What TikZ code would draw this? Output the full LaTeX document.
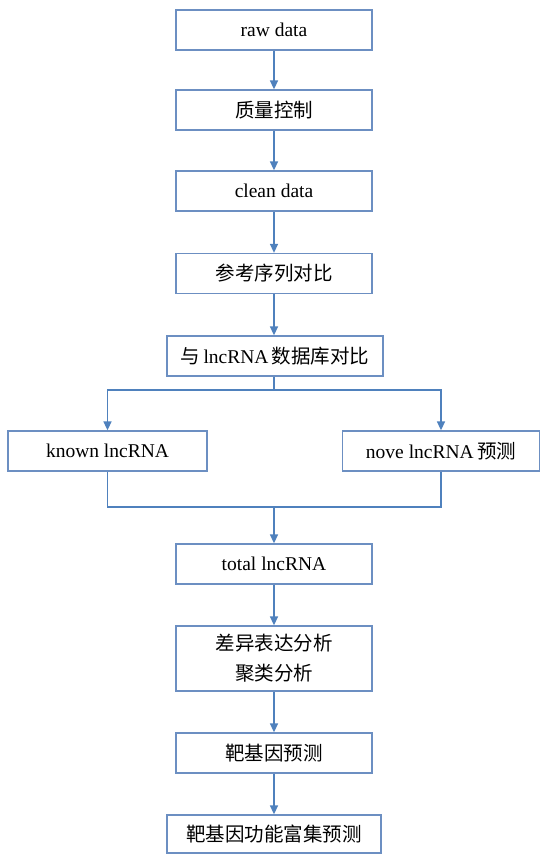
\documentclass[tikz,border=0pt]{standalone}
\usepackage{fontspec}
\setmainfont{Liberation Serif}
\newfontfamily\cjk{Noto Sans CJK SC}
\usetikzlibrary{arrows.meta,positioning}
\definecolor{boxblue}{RGB}{108,143,194}
\definecolor{arrblue}{RGB}{79,129,189}

\begin{document}
\begin{tikzpicture}[x=1pt, y=-1pt, font=\fontsize{19.5}{30}\selectfont,
  stepbox/.style={draw=boxblue, line width=1.3pt, minimum width=196pt,
    minimum height=40pt, inner sep=0pt, align=center},
  link/.style={draw=arrblue, line width=1.5pt},
  flow/.style={link, -{Triangle[width=8pt,length=9pt]}}]
  \useasboundingbox (0,0) rectangle (540,855);
  % ---- main column ----
  \node[stepbox] (raw)   at (274,30)    {raw data};
  \node[stepbox] (qc)    at (274,110)   {\cjk 质量控制};
  \node[stepbox] (clean) at (274,191)   {clean data};
  \node[stepbox] (ref)   at (274,273.5) {\cjk 参考序列对比};
  \node[stepbox, minimum width=216pt] (db) at (275,356)
    {{\cjk 与}\,lncRNA\,{\cjk 数据库对比}};
  % ---- branches ----
  \node[stepbox, minimum width=199pt] (known) at (107.5,451) {known lncRNA};
  \node[stepbox, minimum width=197pt] (nove)  at (441,451)   {nove lncRNA\,{\cjk 预测}};
  \coordinate (split) at (274,390);
  \coordinate (merge) at (274,507);
  % ---- after merge ----
  \node[stepbox] (total)  at (274,564)   {total lncRNA};
  \node[stepbox, minimum height=65pt] (diff) at (274,658.5)
    {\cjk 差异表达分析\\\cjk 聚类分析};
  \node[stepbox] (target) at (274,753)   {\cjk 靶基因预测};
  \node[stepbox, minimum width=214pt, minimum height=38pt] (enrich) at (274,834)
    {\cjk 靶基因功能富集预测};
  % ---- connectors ----
  \draw[flow] (raw) -- (qc);
  \draw[flow] (qc) -- (clean);
  \draw[flow] (clean) -- (ref);
  \draw[flow] (ref) -- (ref |- db.north);
  \draw[link] (db.south -| split) -- (split);
  \draw[flow] (split) -| (known);
  \draw[flow] (split) -| (nove);
  \draw[link] (known) |- (merge);
  \draw[link] (nove) |- (merge);
  \draw[flow] (merge) -- (total);
  \draw[flow] (total) -- (diff);
  \draw[flow] (diff) -- (target);
  \draw[flow] (target) -- (enrich);
\end{tikzpicture}
\end{document}
